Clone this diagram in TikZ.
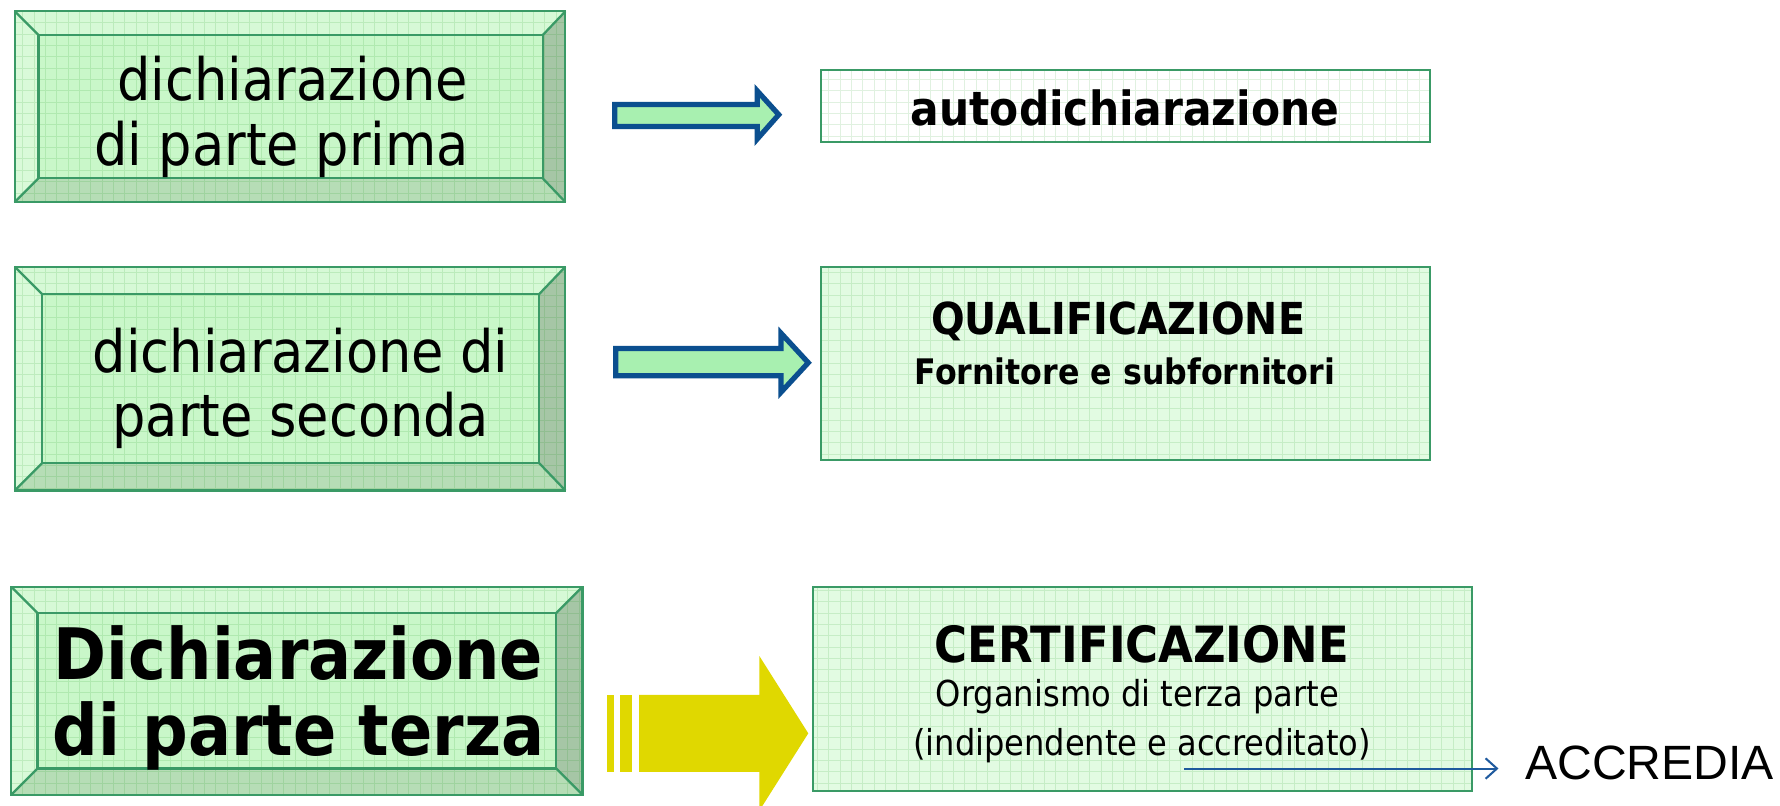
\documentclass[tikz,border=0pt]{standalone}
\usepackage{fontspec}
\setmainfont{DejaVu Sans Condensed}
\newfontfamily\arialf{Liberation Sans}
\usetikzlibrary{arrows.meta}
\definecolor{bord}{HTML}{3A9A66}
\definecolor{face}{HTML}{C9F7C9}
\definecolor{bevtop}{HTML}{D6F9D6}
\definecolor{bevleft}{HTML}{D9FAD9}
\definecolor{bevright}{HTML}{A6C6A6}
\definecolor{bevbot}{HTML}{B6DDB6}
\definecolor{rface}{HTML}{E2FBE2}
\definecolor{arrblue}{HTML}{0B4F8F}
\definecolor{arrfill}{HTML}{A8F0B0}
\definecolor{arryel}{HTML}{E0D800}
\definecolor{accblue}{HTML}{1F5A9E}
\tikzset{
  gridline/.style={draw=green!55!black, opacity=0.12, line width=0.8pt},
  boxborder/.style={draw=bord, line width=2pt},
  blockarrow/.style={draw=arrblue, fill=arrfill, line width=4.6pt, miter limit=10},
  bigtext/.style={align=center, font=\fontsize{51.5}{57}\selectfont},
  boldbig/.style={align=center, font=\bfseries\fontsize{62.5}{67}\selectfont},
}
\newcommand\bevbox[8]{%
  \fill[face] (#1,#2) rectangle (#3,#4);
  \fill[bevtop] (#1,#2) -- (#3,#2) -- (#7,#6) -- (#5,#6) -- cycle;
  \fill[bevleft] (#1,#2) -- (#5,#6) -- (#5,#8) -- (#1,#4) -- cycle;
  \fill[bevright] (#3,#2) -- (#3,#4) -- (#7,#8) -- (#7,#6) -- cycle;
  \fill[bevbot] (#1,#4) -- (#5,#8) -- (#7,#8) -- (#3,#4) -- cycle;
  \begin{scope}
    \clip (#1,#2) rectangle (#3,#4);
    \draw[gridline, step=10pt] (#1,#2) grid (#3,#4);
  \end{scope}
  \draw[boxborder] (#1,#2) rectangle (#3,#4);
  \draw[boxborder] (#5,#6) rectangle (#7,#8);
  \draw[boxborder] (#1,#2) -- (#5,#6) (#3,#2) -- (#7,#6) (#1,#4) -- (#5,#8) (#3,#4) -- (#7,#8);
}
\newcommand\flatbox[5]{%
  \fill[#5] (#1,#2) rectangle (#3,#4);
  \begin{scope}
    \clip (#1,#2) rectangle (#3,#4);
    \draw[gridline, step=10pt] (#1,#2) grid (#3,#4);
  \end{scope}
  \draw[draw=bord, line width=1.6pt] (#1,#2) rectangle (#3,#4);
}
\begin{document}
\begin{tikzpicture}[x=1pt,y=-1pt]
\useasboundingbox (0,0) rectangle (1568,710);
\fill[white] (0,0) rectangle (1568,710);

% left bevelled boxes
\bevbox{13}{10}{498}{178}{34}{31}{478}{157}
\node[bigtext] (p1) at (250,103) {\hspace*{16pt}dichiarazione\\di parte prima\hspace*{4pt}};

\bevbox{13}{235}{498}{432}{37}{259}{475}{408}
\node[bigtext] (p2) at (265,342) {dichiarazione di\\parte seconda};

\bevbox{10}{517}{513}{700}{33}{540}{490}{677}
\node[boldbig] (p3) at (263,615) {Dichiarazione\\di parte terza};

% right boxes
\flatbox{723}{62}{1260}{125}{white}
\node[font=\bfseries\fontsize{41.5}{44}\selectfont] (r1) at (991,95) {autodichiarazione};

\flatbox{723}{235}{1260}{405}{rface}
\node[font=\bfseries\fontsize{38.8}{44}\selectfont] (r2a) at (985,283) {QUALIFICAZIONE};
\node[font=\bfseries\fontsize{31}{34}\selectfont] (r2b) at (991,327) {Fornitore e subfornitori};

\flatbox{716}{517}{1297}{697}{rface}
\node[font=\bfseries\fontsize{44}{48}\selectfont] (r3a) at (1006,568) {CERTIFICAZIONE};
\node[font=\fontsize{31.5}{34}\selectfont] (r3b) at (1002,614) {Organismo di terza parte};
\node[font=\fontsize{31.4}{34}\selectfont] (r3c) at (1006,657) {(indipendente e accreditato)};

% block arrows
\draw[blockarrow] (541.5,92) -- (667,92) -- (667,80) -- (686,101) -- (667,122.5) -- (667,111.5) -- (541.5,111.5) -- cycle;
\draw[blockarrow] (542.5,307) -- (688,307) -- (688,293.5) -- (712,319.5) -- (688,345.5) -- (688,331) -- (542.5,331) -- cycle;

\fill[arryel] (535,612) rectangle (541,680);
\fill[arryel] (546,612) rectangle (557,680);
\fill[arryel] (563,612) -- (669,612) -- (669,578) -- (712,646) -- (669,714) -- (669,680) -- (563,680) -- cycle;

% ACCREDIA
\node[font=\arialf\fontsize{42.4}{46}\selectfont, anchor=west] (acc) at (1340,672) {ACCREDIA};
\coordinate (accfrom) at (1043,677);
\coordinate (accto) at (1320,677);
\draw[accblue, line width=1.8pt, -{Straight Barb[length=10pt,width=18pt,line width=1.8pt]}] (accfrom) -- (accto);
\end{tikzpicture}
\end{document}
